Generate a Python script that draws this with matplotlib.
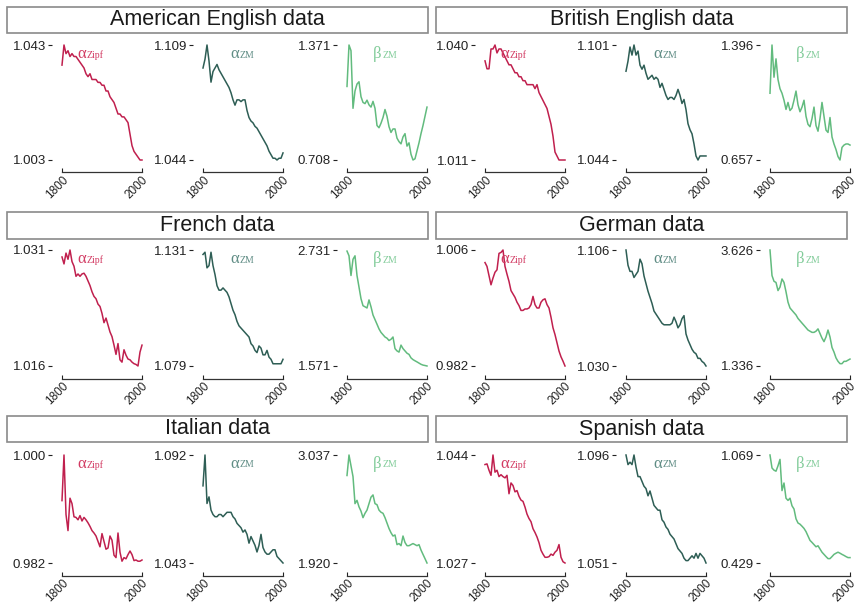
import matplotlib
matplotlib.use("Agg")
import matplotlib.pyplot as plt
from matplotlib.patches import Rectangle

plt.rcParams['font.family'] = ['Liberation Sans', 'DejaVu Sans']

# years sampled every 5 years
years = list(range(1800, 2001, 5))

# panel titles
titles = ['American English data', 'British English data', 'French data',
          'German data', 'Italian data', 'Spanish data']

# American English
ame_alpha_zipf = [1.036, 1.043, 1.040, 1.041, 1.039, 1.040, 1.039, 1.039, 1.038, 1.037,
                  1.036, 1.035, 1.033, 1.032, 1.033, 1.031, 1.031, 1.031, 1.030, 1.030,
                  1.029, 1.029, 1.027, 1.027, 1.025, 1.024, 1.023, 1.021, 1.019, 1.019,
                  1.018, 1.018, 1.017, 1.016, 1.012, 1.008, 1.006, 1.005, 1.004, 1.003, 1.003]
ame_alpha_zm = [1.096, 1.101, 1.109, 1.100, 1.088, 1.094, 1.096, 1.098, 1.095, 1.093,
                1.091, 1.089, 1.087, 1.085, 1.082, 1.078, 1.075, 1.078, 1.078, 1.077,
                1.078, 1.078, 1.072, 1.068, 1.066, 1.065, 1.063, 1.062, 1.060, 1.058,
                1.056, 1.054, 1.052, 1.049, 1.047, 1.045, 1.045, 1.044, 1.045, 1.045, 1.048]
ame_beta_zm = [1.132, 1.371, 1.338, 1.006, 1.106, 1.146, 1.159, 1.073, 1.040, 1.033,
               1.053, 1.026, 1.013, 1.046, 1.006, 0.907, 0.894, 0.920, 0.953, 0.999,
               0.960, 0.900, 0.867, 0.887, 0.887, 0.834, 0.814, 0.801, 0.841, 0.860,
               0.788, 0.807, 0.741, 0.708, 0.715, 0.761, 0.807, 0.860, 0.907, 0.960, 1.013]
ame_ticks = [(1.003, 1.043), (1.044, 1.109), (0.708, 1.371)]

# British English
bre_alpha_zipf = [1.036, 1.034, 1.034, 1.039, 1.039, 1.040, 1.038, 1.039, 1.039, 1.038,
                  1.037, 1.036, 1.035, 1.035, 1.034, 1.033, 1.033, 1.032, 1.032, 1.031,
                  1.031, 1.030, 1.030, 1.030, 1.030, 1.029, 1.030, 1.028, 1.027, 1.026,
                  1.025, 1.024, 1.022, 1.020, 1.017, 1.013, 1.012, 1.011, 1.011, 1.011, 1.011]
bre_alpha_zm = [1.088, 1.093, 1.100, 1.096, 1.101, 1.096, 1.098, 1.091, 1.089, 1.091,
                1.087, 1.084, 1.085, 1.086, 1.084, 1.085, 1.084, 1.080, 1.082, 1.079,
                1.076, 1.074, 1.075, 1.075, 1.074, 1.076, 1.079, 1.076, 1.072, 1.074,
                1.069, 1.062, 1.059, 1.057, 1.052, 1.046, 1.044, 1.046, 1.046, 1.046, 1.046]
bre_beta_zm = [1.086, 1.396, 1.189, 1.307, 1.174, 1.115, 1.086, 1.041, 0.982, 1.027,
               0.975, 0.990, 1.041, 1.100, 1.012, 0.967, 0.997, 1.041, 0.938, 0.886,
               0.871, 0.923, 0.997, 0.879, 0.842, 0.923, 1.027, 0.938, 0.849, 0.834,
               0.930, 0.805, 0.760, 0.724, 0.679, 0.657, 0.738, 0.753, 0.760, 0.760, 0.753]
bre_ticks = [(1.011, 1.040), (1.044, 1.101), (0.657, 1.396)]

# French
fre_alpha_zipf = [1.0301, 1.0292, 1.0306, 1.0298, 1.0310, 1.0295, 1.0289, 1.0276, 1.0279, 1.0276,
                  1.0279, 1.0280, 1.0276, 1.0270, 1.0264, 1.0256, 1.0250, 1.0247, 1.0240, 1.0237,
                  1.0228, 1.0216, 1.0222, 1.0213, 1.0204, 1.0198, 1.0187, 1.0175, 1.0189, 1.0168,
                  1.0165, 1.0181, 1.0174, 1.0169, 1.0168, 1.0165, 1.0163, 1.0162, 1.0160, 1.0178, 1.0187]
fre_alpha_zm = [1.129, 1.130, 1.123, 1.124, 1.130, 1.124, 1.120, 1.115, 1.113, 1.113,
                1.114, 1.113, 1.112, 1.110, 1.107, 1.104, 1.102, 1.099, 1.097, 1.096,
                1.095, 1.094, 1.093, 1.092, 1.089, 1.088, 1.086, 1.085, 1.088, 1.087,
                1.084, 1.084, 1.086, 1.083, 1.082, 1.080, 1.080, 1.080, 1.080, 1.080, 1.082]
fre_beta_zm = [2.720, 2.673, 2.476, 2.638, 2.673, 2.476, 2.360, 2.244, 2.174, 2.163,
               2.151, 2.232, 2.163, 2.081, 2.035, 1.989, 1.942, 1.907, 1.884, 1.861,
               1.849, 1.826, 1.838, 1.861, 1.745, 1.722, 1.710, 1.780, 1.745, 1.722,
               1.699, 1.687, 1.652, 1.635, 1.623, 1.612, 1.600, 1.588, 1.580, 1.576, 1.571]
fre_ticks = [(1.016, 1.031), (1.079, 1.131), (1.571, 2.731)]

# German
ger_alpha_zipf = [1.0034, 1.0026, 1.0007, 0.9988, 1.0002, 1.0014, 1.0019, 1.0053, 1.0055, 1.0060,
                  1.0026, 1.0010, 0.9995, 0.9976, 0.9969, 0.9962, 0.9952, 0.9945, 0.9935, 0.9935,
                  0.9938, 0.9938, 0.9940, 0.9947, 0.9964, 0.9947, 0.9940, 0.9940, 0.9952, 0.9957,
                  0.9959, 0.9947, 0.9940, 0.9921, 0.9899, 0.9885, 0.9868, 0.9851, 0.9839, 0.9830, 0.9820]
ger_alpha_zm = [1.106, 1.096, 1.092, 1.092, 1.088, 1.090, 1.092, 1.100, 1.097, 1.089,
                1.084, 1.079, 1.075, 1.071, 1.066, 1.064, 1.062, 1.060, 1.058, 1.057,
                1.057, 1.057, 1.057, 1.058, 1.062, 1.059, 1.055, 1.057, 1.061, 1.063,
                1.051, 1.047, 1.044, 1.041, 1.039, 1.038, 1.035, 1.035, 1.033, 1.032, 1.030]
ger_beta_zm = [3.626, 3.122, 3.008, 2.985, 2.825, 2.893, 3.054, 2.985, 2.802, 2.596,
               2.481, 2.435, 2.389, 2.344, 2.275, 2.229, 2.183, 2.138, 2.092, 2.046,
               2.023, 2.000, 2.000, 2.023, 2.069, 1.977, 1.886, 1.817, 1.909, 2.046,
               1.909, 1.702, 1.611, 1.496, 1.428, 1.382, 1.382, 1.428, 1.428, 1.451, 1.473]
ger_ticks = [(0.982, 1.006), (1.030, 1.106), (1.336, 3.626)]

# Italian
ita_alpha_zipf = [0.9924, 1.0000, 0.9901, 0.9874, 0.9928, 0.9919, 0.9897, 0.9896, 0.9892, 0.9899,
                  0.9890, 0.9896, 0.9892, 0.9887, 0.9881, 0.9874, 0.9870, 0.9865, 0.9856, 0.9847,
                  0.9869, 0.9856, 0.9843, 0.9845, 0.9865, 0.9858, 0.9833, 0.9829, 0.9870, 0.9838,
                  0.9823, 0.9829, 0.9827, 0.9834, 0.9840, 0.9834, 0.9824, 0.9825, 0.9823, 0.9823, 0.9825]
ita_alpha_zm = [1.078, 1.092, 1.070, 1.073, 1.067, 1.065, 1.064, 1.064, 1.065, 1.065,
                1.064, 1.065, 1.066, 1.066, 1.066, 1.064, 1.063, 1.061, 1.060, 1.059,
                1.057, 1.058, 1.056, 1.052, 1.055, 1.053, 1.051, 1.048, 1.051, 1.056,
                1.050, 1.048, 1.047, 1.047, 1.048, 1.049, 1.049, 1.046, 1.045, 1.044, 1.043]
ita_beta_zm = [2.825, 3.037, 2.925, 2.814, 2.534, 2.568, 2.501, 2.456, 2.389, 2.434,
               2.467, 2.534, 2.601, 2.624, 2.534, 2.523, 2.467, 2.445, 2.434, 2.389,
               2.333, 2.277, 2.233, 2.199, 2.210, 2.110, 2.121, 2.099, 2.199, 2.132,
               2.099, 2.099, 2.110, 2.121, 2.110, 2.099, 2.110, 2.054, 2.009, 1.965, 1.920]
ita_ticks = [(0.982, 1.000), (1.043, 1.092), (1.920, 3.037)]

# Spanish
spa_alpha_zipf = [1.0425, 1.0426, 1.0416, 1.0408, 1.0440, 1.0413, 1.0416, 1.0406, 1.0409, 1.0406,
                  1.0404, 1.0408, 1.0379, 1.0396, 1.0392, 1.0382, 1.0384, 1.0375, 1.0369, 1.0367,
                  1.0358, 1.0347, 1.0340, 1.0335, 1.0324, 1.0318, 1.0311, 1.0302, 1.0290, 1.0284,
                  1.0279, 1.0279, 1.0280, 1.0284, 1.0282, 1.0287, 1.0290, 1.0299, 1.0279, 1.0272, 1.0270]
spa_alpha_zm = [1.096, 1.092, 1.093, 1.092, 1.096, 1.091, 1.087, 1.087, 1.085, 1.083,
                1.082, 1.079, 1.081, 1.078, 1.075, 1.074, 1.073, 1.073, 1.069, 1.068,
                1.066, 1.065, 1.063, 1.062, 1.061, 1.059, 1.057, 1.056, 1.055, 1.053,
                1.052, 1.052, 1.053, 1.054, 1.053, 1.055, 1.053, 1.055, 1.054, 1.053, 1.051]
spa_beta_zm = [1.069, 0.992, 0.979, 0.973, 1.005, 1.043, 0.858, 0.903, 0.813, 0.800,
               0.813, 0.768, 0.749, 0.691, 0.666, 0.659, 0.647, 0.634, 0.615, 0.589,
               0.563, 0.551, 0.538, 0.525, 0.531, 0.512, 0.493, 0.480, 0.467, 0.455,
               0.455, 0.467, 0.480, 0.487, 0.493, 0.487, 0.480, 0.474, 0.467, 0.461, 0.461]
spa_ticks = [(1.027, 1.044), (1.051, 1.096), (0.429, 1.069)]

panels = [
    (ame_alpha_zipf, ame_alpha_zm, ame_beta_zm, ame_ticks),
    (bre_alpha_zipf, bre_alpha_zm, bre_beta_zm, bre_ticks),
    (fre_alpha_zipf, fre_alpha_zm, fre_beta_zm, fre_ticks),
    (ger_alpha_zipf, ger_alpha_zm, ger_beta_zm, ger_ticks),
    (ita_alpha_zipf, ita_alpha_zm, ita_beta_zm, ita_ticks),
    (spa_alpha_zipf, spa_alpha_zm, spa_beta_zm, spa_ticks),
]

line_colors = ['#c0204e', '#2e5e55', '#62bb7e']
label_colors = ['#d23a62', '#5f8c84', '#82cc9a']
greek = ['\u03b1', '\u03b1', '\u03b2']
subs = ['Zipf', 'ZM', 'ZM']
greek_x = [0.19, 0.34, 0.32]

W, H = 859, 607
fig = plt.figure(figsize=(W / 100, H / 100), dpi=100)

# pixel layout: (box top, box bottom, axes top, axes bottom) per row
rows_px = [(7, 33, 45, 160), (212, 239, 250, 366), (416, 442, 455, 563)]
group_x = [(7, 428), (436, 847)]
sub_left = [62, 203, 347]
group_shift = 423
sub_w = 80

for p, (s1, s2, s3, ticks) in enumerate(panels):
    r, g = divmod(p, 2)
    btop, bbot, atop, abot = rows_px[r]
    gx0, gx1 = group_x[g]
    # title box
    fig.patches.append(Rectangle((gx0 / W, 1 - bbot / H), (gx1 - gx0) / W, (bbot - btop) / H,
                                 transform=fig.transFigure, facecolor='white',
                                 edgecolor='#8a8a8a', linewidth=1.2))
    fig.text((gx0 + gx1) / 2 / W, 1 - (btop + bbot) / 2 / H, titles[p],
             ha='center', va='center', fontsize=15.5, color='#1a1a1a')
    for k, series in enumerate([s1, s2, s3]):
        left = sub_left[k] + group_shift * g
        ax = fig.add_axes([left / W, 1 - abot / H, sub_w / W, (abot - atop) / H])
        ax.plot(years, series, color=line_colors[k], linewidth=1.1, clip_on=False)
        lo, hi = ticks[k]
        ax.set_xlim(1800, 2000)
        ax.set_ylim(lo, hi)
        ax.set_facecolor('none')
        for side in ['top', 'right', 'left']:
            ax.spines[side].set_visible(False)
        ax.spines['left'].set_position(('outward', 7))
        ax.spines['bottom'].set_position(('outward', 9))
        ax.spines['bottom'].set_linewidth(0.9)
        ax.spines['bottom'].set_color('#333333')
        ax.set_yticks([lo, hi])
        ax.set_yticklabels(['%.3f' % lo, '%.3f' % hi])
        ax.set_xticks([1800, 2000])
        ax.set_xticklabels(['1800', '2000'], rotation=45, ha='right', rotation_mode='anchor')
        ax.tick_params(axis='y', length=3, width=0.8, pad=1.5, labelsize=9.5, colors='#222222')
        ax.tick_params(axis='x', direction='in', length=3, width=0.8, pad=1, labelsize=8.5,
                       colors='#222222')
        ax.text(greek_x[k], 0.92, greek[k], transform=ax.transAxes, fontsize=12,
                family=['Liberation Serif', 'DejaVu Serif'], color=label_colors[k],
                ha='left', va='center')
        ax.text(greek_x[k] + 0.12, 0.91, subs[k], transform=ax.transAxes, fontsize=7,
                family=['Liberation Serif', 'DejaVu Serif'], color=label_colors[k],
                ha='left', va='center')

fig.savefig('out.png', dpi=100, facecolor='white')
